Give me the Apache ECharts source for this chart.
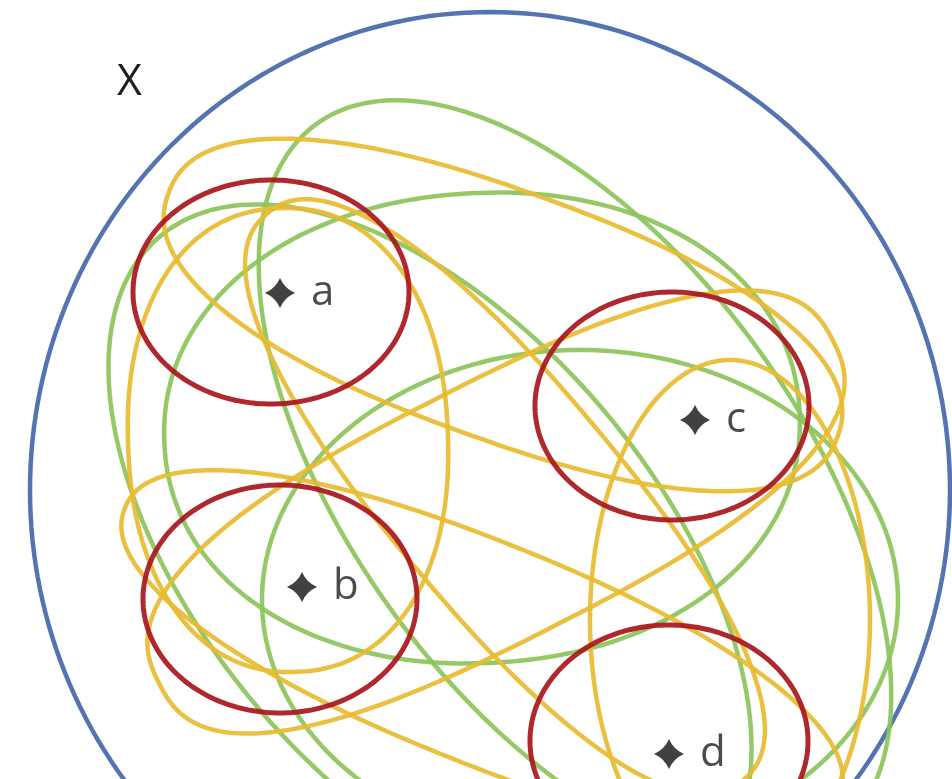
<!DOCTYPE html>
<html><head><meta charset="utf-8">
<script src="https://cdn.jsdelivr.net/npm/echarts@6/dist/echarts.min.js"></script>
<style>html,body{margin:0;padding:0;background:#fff}#c{width:952px;height:779px}</style>
</head><body><div id="c"></div>
<script>
// Elements of X
const pointNames = ['a', 'b', 'c', 'd'];
const pointX = [280, 302, 695, 669];
const pointY = [293, 587, 420, 754];

// Set outlines: [centerX, centerY, semiAxisA, semiAxisB, rotationDeg, roundness]
const universeSet = [[490, 490, 460, 478, 0, 2]];
const singletonSets = [
  [271, 292, 138, 112, 0, 2],
  [280, 599, 137, 114, 0, 2],
  [672, 406, 137, 114, 0, 2],
  [669, 741, 139, 116, 0, 2]
];
const pairSets = [
  [288, 440, 232, 160, 88, 2.2],   // {a,b}
  [503, 315, 356, 124, 20, 2.3],   // {a,c}
  [496, 512, 378, 128, -27, 2.6],  // {b,c}
  [482, 652, 385, 110, 22, 2.2],   // {b,d}
  [505, 497, 370, 114, 50, 2.3],   // {a,d}
  [730, 620, 260, 140, 90, 2.0]    // {c,d}
];
const tripleSets = [
  [482, 428, 318, 235, -3, 2.1],   // {a,b,c}
  [430, 558, 420, 228, 50, 2.0],   // {a,b,d}
  [575, 480, 440, 225, 54, 2.0],   // {a,c,d}
  [580, 600, 318, 250, 0, 2.0]     // {b,c,d}
];
const setLabel = 'X';

function outlineSeries(name, shapes, color, width, z) {
  return {
    type: 'custom', name: name, z: z,
    coordinateSystem: 'cartesian2d',
    silent: true,
    clip: false,
    data: shapes.map(function (s) { return s.slice(); }),
    encode: { x: 0, y: 1 },
    renderItem: function (params, api) {
      const cx = api.value(0), cy = api.value(1);
      const A = api.value(2), B = api.value(3);
      const ang = api.value(4) * Math.PI / 180, p = api.value(5);
      const pts = [];
      const N = 240;
      for (let k = 0; k < N; k++) {
        const t = 2 * Math.PI * k / N;
        const c = Math.cos(t), s = Math.sin(t);
        const u = A * Math.sign(c) * Math.pow(Math.abs(c), 2 / p);
        const v = B * Math.sign(s) * Math.pow(Math.abs(s), 2 / p);
        const x = cx + u * Math.cos(ang) - v * Math.sin(ang);
        const y = cy + u * Math.sin(ang) + v * Math.cos(ang);
        pts.push(api.coord([x, y]));
      }
      return {
        type: 'polygon',
        shape: { points: pts },
        style: { fill: 'none', stroke: color, lineWidth: width, opacity: 0.92 }
      };
    }
  };
}

const chart = echarts.init(document.getElementById('c'), null, { renderer: 'canvas' });
chart.setOption({
  backgroundColor: '#ffffff',
  animation: false,
  title: {
    text: setLabel, left: 117, top: 61, padding: 0,
    textStyle: { fontSize: 43, fontWeight: 'normal', fontFamily: 'Open Sans', color: '#1e1e1e' }
  },
  grid: { left: 0, right: 0, top: 0, bottom: 0 },
  xAxis: { type: 'value', min: 0, max: 952, show: false },
  yAxis: { type: 'value', min: 0, max: 779, inverse: true, show: false },
  series: [
    outlineSeries('X', universeSet, '#4467aa', 4.5, 1),
    outlineSeries('triples', tripleSets, '#8cc35a', 4.5, 2),
    outlineSeries('pairs', pairSets, '#e8bb30', 4.5, 3),
    outlineSeries('singletons', singletonSets, '#a8161c', 5, 4),
    {
      type: 'scatter', z: 6,
      symbol: 'path://M0,-10 Q3,-3 10,0 Q3,3 0,10 Q-3,3 -10,0 Q-3,-3 0,-10 Z',
      symbolSize: 30,
      itemStyle: { color: '#111' },
      label: {
        show: true, position: 'right', distance: 16,
        formatter: function (p) { return p.name; },
        fontSize: 42, fontFamily: 'Open Sans', color: '#1e1e1e'
      },
      data: pointNames.map(function (n, i) { return { name: n, value: [pointX[i], pointY[i]] }; })
    }
  ]
});
</script></body></html>
